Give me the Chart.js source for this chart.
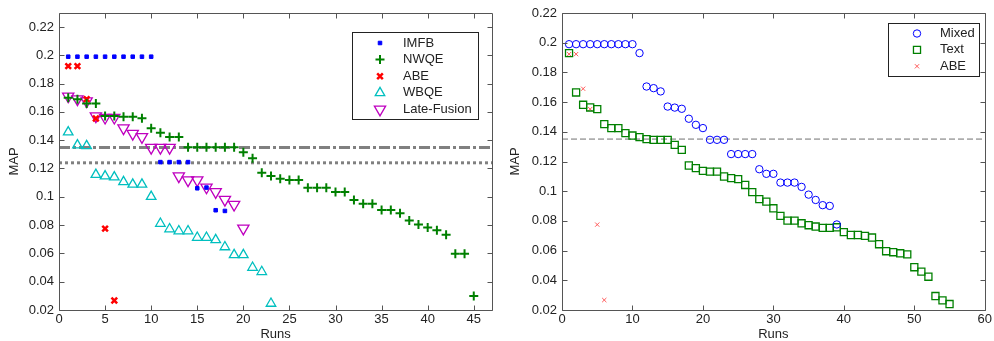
<!DOCTYPE html>
<html>
<head>
<meta charset="utf-8">
<script src="https://cdn.jsdelivr.net/npm/chart.js@4.4.1/dist/chart.umd.min.js"></script>
<style>
html, body { margin: 0; padding: 0; background: #fff; overflow: hidden; }
#left { position: absolute; left: 0; top: 0; }
#right { position: absolute; left: 500px; top: 0; }
</style>
</head>
<body>
<canvas id="left" width="500" height="341"></canvas>
<canvas id="right" width="494" height="341"></canvas>
<script>
// left panel: MAP per run, runs numbered from 1
const imfb = [0.199, 0.199, 0.199, 0.199, 0.199, 0.199, 0.199, 0.199, 0.199, 0.199,
  0.1245, 0.1245, 0.1245, 0.1245, 0.106, 0.1065, 0.0905, 0.09];
const nwqe = [0.170, 0.169, 0.166, 0.166, 0.157, 0.157, 0.1565, 0.1565, 0.1555, 0.1485,
  0.1453, 0.1423, 0.1423, 0.135, 0.135, 0.135, 0.135, 0.135, 0.135, 0.1314,
  0.1273, 0.1169, 0.1146, 0.1127, 0.1118, 0.1118, 0.1063, 0.1063, 0.1063, 0.1034,
  0.1034, 0.0977, 0.095, 0.095, 0.0906, 0.0906, 0.0883, 0.0832, 0.0804, 0.0783,
  0.0763, 0.0731, 0.0597, 0.0597, 0.0299];
const abe = [0.1923, 0.1923, 0.169, 0.1553, 0.0775, 0.0267];
const wbqe = [0.1457, 0.1365, 0.136, 0.1157, 0.1146, 0.1139, 0.1105, 0.1088, 0.1088, 0.1001,
  0.0811, 0.0772, 0.0758, 0.0758, 0.0712, 0.0712, 0.0696, 0.0645, 0.059, 0.059,
  0.05, 0.047, 0.0246];
const lateFusion = [0.171, 0.169, 0.1676, 0.157, 0.156, 0.156, 0.1485, 0.1446, 0.1423, 0.1347,
  0.1347, 0.1347, 0.1146, 0.1118, 0.1118, 0.1067, 0.1035, 0.098, 0.0945, 0.0777];
const leftDashDot = 0.1349;
const leftDotted = 0.124;

// right panel
const mixed = [0.199, 0.199, 0.199, 0.199, 0.199, 0.199, 0.199, 0.199, 0.199, 0.199,
  0.193, 0.1705, 0.1694, 0.1672, 0.157, 0.1563, 0.1555, 0.1488, 0.1447, 0.1425,
  0.1346, 0.1346, 0.1346, 0.125, 0.125, 0.125, 0.125, 0.1148, 0.1117, 0.1117,
  0.1058, 0.1058, 0.1058, 0.1029, 0.0977, 0.0941, 0.0906, 0.0901, 0.0776];
const text = [0.193, 0.1665, 0.1582, 0.1564, 0.1553, 0.1452, 0.1425, 0.1425, 0.1391, 0.1375,
  0.1364, 0.1351, 0.1346, 0.1346, 0.1346, 0.1312, 0.1278, 0.1173, 0.1155, 0.1137,
  0.1132, 0.1132, 0.1099, 0.1088, 0.1081, 0.1042, 0.0994, 0.0947, 0.093, 0.0885,
  0.0834, 0.0802, 0.0802, 0.0784, 0.0771, 0.0762, 0.0753, 0.0753, 0.0757, 0.0724,
  0.0705, 0.0705, 0.0699, 0.0688, 0.0643, 0.0596, 0.0589, 0.0582, 0.0575, 0.0488,
  0.0458, 0.0424, 0.0294, 0.0265, 0.024];
const abeRight = [0.1923, 0.1923, 0.169, 0.1553, 0.0775, 0.0267];
const rightDashed = 0.1351;

const leftXTicks = [0, 5, 10, 15, 20, 25, 30, 35, 40, 45];
const rightXTicks = [0, 10, 20, 30, 40, 50, 60];
const yTicks = [0.02, 0.04, 0.06, 0.08, 0.1, 0.12, 0.14, 0.16, 0.18, 0.2, 0.22];

const FONT = '"Liberation Sans", Arial, sans-serif';
Chart.defaults.font.family = FONT;
Chart.defaults.font.size = 13;
Chart.defaults.color = '#222';

function pts(ys) {
  return ys.map((y, i) => ({ x: i + 1, y: y }));
}

function marker(label, ys, style, r, color, fill, bw, rot) {
  return {
    label: label,
    data: pts(ys),
    pointStyle: style,
    pointRadius: r,
    pointHoverRadius: r,
    pointRotation: rot || 0,
    pointBorderColor: color,
    pointBackgroundColor: fill,
    pointBorderWidth: bw,
    borderColor: color,
    backgroundColor: fill
  };
}

function hline(v, x0, x1, color, width, dash) {
  return {
    data: [{ x: x0, y: v }, { x: x1, y: v }],
    showLine: true,
    borderColor: color,
    borderWidth: width,
    borderDash: dash,
    pointRadius: 0,
    order: 0
  };
}

function drawLegend(chart, o) {
  const ctx = chart.ctx;
  ctx.save();
  ctx.fillStyle = '#fff';
  ctx.fillRect(o.x, o.y, o.w, o.h);
  ctx.strokeStyle = '#222';
  ctx.lineWidth = 1;
  ctx.strokeRect(o.x + 0.5, o.y + 0.5, o.w, o.h);
  ctx.font = '13px ' + FONT;
  ctx.textBaseline = 'middle';
  ctx.textAlign = 'left';
  let i = 0;
  chart.data.datasets.forEach(ds => {
    if (!ds.label) return;
    const y = o.rowY + i * o.step;
    ctx.fillStyle = ds.pointBackgroundColor;
    ctx.strokeStyle = ds.pointBorderColor;
    ctx.lineWidth = ds.pointBorderWidth;
    Chart.helpers.drawPoint(ctx, {
      pointStyle: ds.pointStyle, rotation: ds.pointRotation,
      radius: ds.pointRadius, borderWidth: ds.pointBorderWidth
    }, o.markerX, y);
    ctx.fillStyle = '#222';
    ctx.fillText(ds.label, o.textX, y);
    i++;
  });
  ctx.restore();
}

// matlab style box with ticks pointing inwards, plus legend
const framePlugin = {
  id: 'frame',
  afterDraw(chart, args, opts) {
    const { ctx, chartArea: a, scales } = chart;
    const L = Math.round(a.left) + 0.5, R = Math.round(a.right) + 0.5;
    const T = Math.round(a.top) + 0.5, B = Math.round(a.bottom) + 0.5;
    ctx.save();
    ctx.strokeStyle = '#555';
    ctx.lineWidth = 1;
    ctx.beginPath();
    ctx.rect(L, T, R - L, B - T);
    scales.x.ticks.forEach(t => {
      const px = Math.round(scales.x.getPixelForValue(t.value)) + 0.5;
      ctx.moveTo(px, B); ctx.lineTo(px, B - 5);
      ctx.moveTo(px, T); ctx.lineTo(px, T + 5);
    });
    scales.y.ticks.forEach(t => {
      const py = Math.round(scales.y.getPixelForValue(t.value)) + 0.5;
      ctx.moveTo(L, py); ctx.lineTo(L + 5, py);
      ctx.moveTo(R, py); ctx.lineTo(R - 5, py);
    });
    ctx.stroke();
    ctx.restore();
    drawLegend(chart, opts);
  }
};

function scales(xMax, yMax, xTicks, yWidth, titlePad) {
  return {
    x: {
      type: 'linear', min: 0, max: xMax,
      grid: { display: false, drawTicks: false },
      border: { display: false },
      afterBuildTicks: s => { s.ticks = xTicks.map(v => ({ value: v })); },
      afterFit: s => { s.height = 31; },
      ticks: { autoSkip: false, maxRotation: 0, padding: 2, callback: v => String(v) },
      title: { display: true, text: 'Runs', padding: { top: 0, bottom: 0 }, font: { size: 13, lineHeight: 1 } }
    },
    y: {
      type: 'linear', min: 0.02, max: yMax,
      grid: { display: false, drawTicks: false },
      border: { display: false },
      afterBuildTicks: s => { s.ticks = yTicks.map(v => ({ value: v })); },
      afterFit: s => { s.width = yWidth; },
      ticks: { padding: 5, callback: v => String(v) },
      title: { display: true, text: 'MAP', padding: { top: titlePad, bottom: 0 }, font: { size: 13 } }
    }
  };
}

function baseOptions(pad, sc, legend) {
  return {
    responsive: false,
    animation: false,
    events: [],
    layout: { padding: pad },
    scales: sc,
    plugins: { legend: { display: false }, tooltip: { enabled: false }, frame: legend }
  };
}

const none = 'rgba(0,0,0,0)';

new Chart(document.getElementById('left'), {
  type: 'scatter',
  data: {
    datasets: [
      marker('IMFB', imfb, 'rect', 2.5, 'rgb(0,0,255)', 'rgb(0,0,255)', 1),
      marker('NWQE', nwqe, 'cross', 4.5, 'rgb(0,128,0)', none, 2),
      marker('ABE', abe, 'crossRot', 4, 'rgb(255,0,0)', none, 2.5),
      marker('WBQE', wbqe, 'triangle', 5.5, 'rgb(0,191,191)', none, 1.3),
      marker('Late-Fusion', lateFusion, 'triangle', 6.5, 'rgb(191,0,191)', none, 1.3, 180),
      hline(leftDashDot, 0, 47, '#808080', 3, [11, 3, 3, 3]),
      hline(leftDotted, 0, 47, '#808080', 3, [3, 3])
    ]
  },
  options: baseOptions({ left: 0, top: 6, right: 5, bottom: 0 },
    scales(47, 0.23, leftXTicks, 59, 7),
    { x: 352, y: 32, w: 126, h: 87, markerX: 380, textX: 403, rowY: 43, step: 16.6 }),
  plugins: [framePlugin]
});

new Chart(document.getElementById('right'), {
  type: 'scatter',
  data: {
    datasets: [
      marker('Mixed', mixed, 'circle', 3.7, 'rgb(0,0,255)', none, 1),
      marker('Text', text, 'rect', 5, 'rgb(0,128,0)', none, 1.3),
      marker('ABE', abeRight, 'crossRot', 3, 'rgb(255,90,90)', none, 1),
      hline(rightDashed, 0, 60, '#707070', 1, [6, 3])
    ]
  },
  options: baseOptions({ left: 0, top: 13, right: 7, bottom: 0 },
    scales(60, 0.22, rightXTicks, 62, 8),
    { x: 388, y: 23, w: 91, h: 53, markerX: 417, textX: 440, rowY: 33.5, step: 16.4 }),
  plugins: [framePlugin]
});
</script>
</body>
</html>
